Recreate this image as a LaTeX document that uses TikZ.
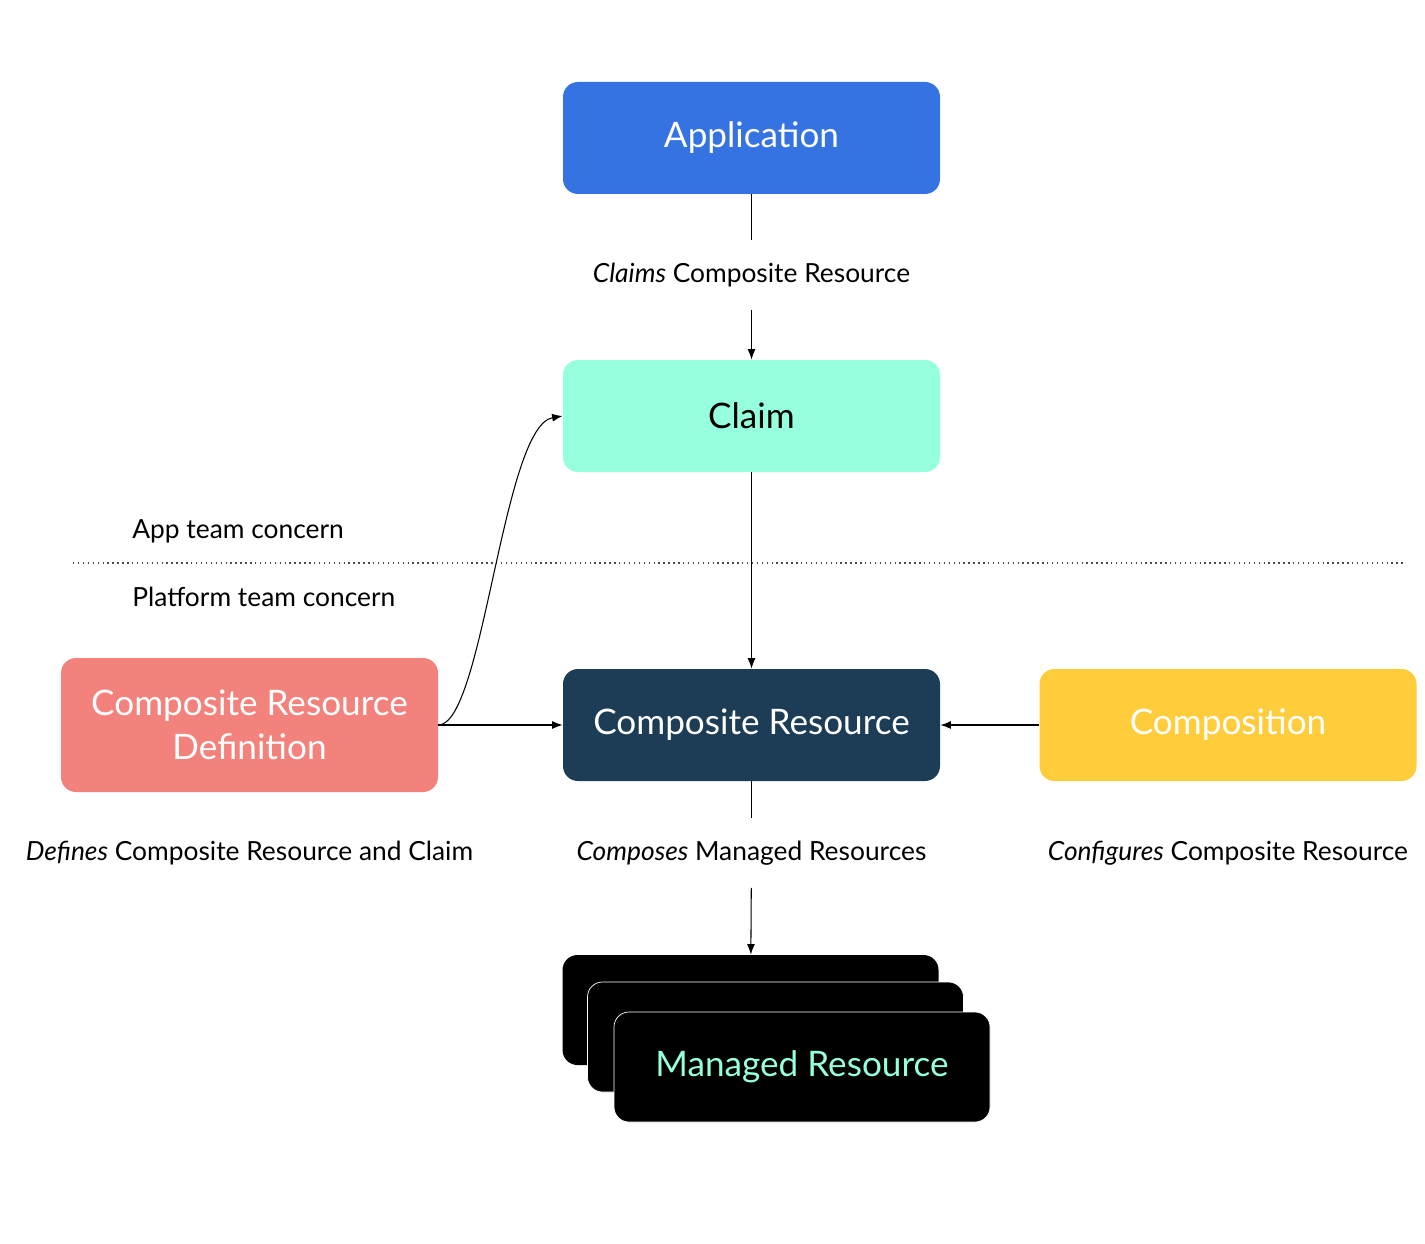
\documentclass[tikz,border=0pt]{standalone}
\usepackage{fontspec}
\setmainfont{Lato}
\usepackage{xcolor}
\definecolor{appblue}{RGB}{53,114,226}
\definecolor{claimgreen}{RGB}{150,255,222}
\definecolor{xrnavy}{RGB}{28,61,85}
\definecolor{xrdsalmon}{RGB}{243,130,124}
\definecolor{compyellow}{RGB}{255,205,60}
\usepackage{tikz}
\usetikzlibrary{positioning}
\usetikzlibrary{arrows.meta}
\usetikzlibrary{calc}

\tikzset{
  box/.style={rounded corners=15*0.02cm, minimum width=377*0.02cm, minimum height=112*0.02cm,
              align=center, font=\fontsize{20}{25}\selectfont, text=white},
  mrbox/.style={box, fill=black, minimum width=376*0.02cm, minimum height=110*0.02cm},
  lbl/.style={font=\fontsize{15}{18}\selectfont, minimum height=69*0.02cm, inner sep=0pt},
  conn/.style={draw=black, semithick},
  arr/.style={conn, -{Latex[length=6pt,width=4.5pt]}}
}

\begin{document}
\begin{tikzpicture}[x=0.02cm,y=-0.02cm]
	\useasboundingbox (0,0) rectangle (1425,1243);

	% boxes
	\node[box, fill=appblue] (app) at (751.5,138) {Application};
	\node[box, fill=claimgreen, text=black] (claim) at (751.5,416) {Claim};
	\node[box, fill=xrnavy] (xr) at (751.5,725) {Composite Resource};
	\node[box, fill=xrdsalmon, minimum height=134*0.02cm] (xrd) at (249.5,725) {Composite Resource\\Definition};
	\node[box, fill=compyellow] (comp) at (1228,725) {Composition};

	% managed resources, stacked
	\node[mrbox] (mr1) at (750.5,1010) {};
	\node[mrbox, draw=white, thin] (mr2) at (775.5,1037) {};
	\node[mrbox, draw=white, thin, text=claimgreen] (mr3) at (802,1067) {Managed Resource};

	% labels
	\node[lbl] (claims) at (751.5,275) {\textit{Claims} Composite Resource};
	\node[lbl] (composes) at (751.5,853) {\textit{Composes} Managed Resources};
	\node[lbl] (defines) at (249.5,853) {\textit{Defines} Composite Resource and Claim};
	\node[lbl] (configures) at (1228,853) {\textit{Configures} Composite Resource};
	\node[lbl, anchor=west] (appteam) at (132,531) {App team concern};
	\node[lbl, anchor=west] (platteam) at (132,597) {Platform team concern};

	% team boundary
	\coordinate (sepL) at (73,563);
	\coordinate (sepR) at (1403,563);
	\draw[black!70, dotted, thick] (sepL) -- (sepR);

	% connectors
	\draw[conn] (app) -- (claims);
	\draw[arr] (claims) -- (claim);
	\draw[arr] (claim) -- (xr);
	\draw[arr] (xrd.east) -- (xr.west);
	\draw[arr] (comp.west) -- (xr.east);
	\draw[arr] (xrd.east) .. controls +(45,0) and +(-60,10) .. (claim.west);
	\draw[conn] (xr) -- (composes);
	\draw[arr] (composes) -- (mr1);
\end{tikzpicture}
\end{document}
